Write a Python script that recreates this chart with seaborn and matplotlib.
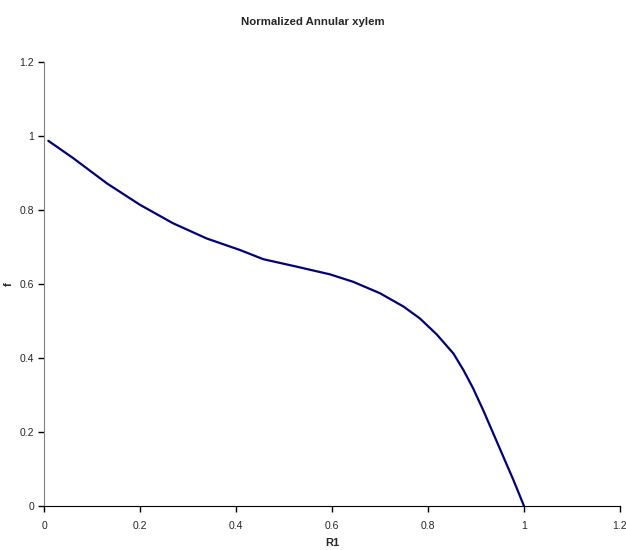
import pandas as pd
import matplotlib
matplotlib.use("Agg")
import matplotlib.pyplot as plt
import seaborn as sns

# values
r1 = [0.009, 0.061, 0.131, 0.2, 0.269, 0.339, 0.408, 0.457, 0.526, 0.596,
      0.644, 0.7, 0.749, 0.783, 0.818, 0.853, 0.874, 0.894, 0.915, 0.936,
      0.957, 0.978, 1.0]
f_vals = [0.987, 0.94, 0.872, 0.814, 0.764, 0.723, 0.692, 0.667, 0.647, 0.626,
          0.606, 0.575, 0.539, 0.507, 0.464, 0.412, 0.367, 0.318, 0.259, 0.196,
          0.133, 0.07, 0.0]
x_ticks = [0, 0.2, 0.4, 0.6, 0.8, 1, 1.2]
y_ticks = [0, 0.2, 0.4, 0.6, 0.8, 1, 1.2]
tick_labels = ["0", "0.2", "0.4", "0.6", "0.8", "1", "1.2"]

df = pd.DataFrame({"R1": r1, "f": f_vals})

sns.set_style("white")
plt.rcParams["font.family"] = ["Liberation Sans Narrow", "Liberation Sans", "DejaVu Sans"]

fig = plt.figure(figsize=(6.26, 5.5), dpi=100)
ax = fig.add_axes([44 / 626, 1 - 506 / 550, 576 / 626, 444 / 550])

sns.lineplot(data=df, x="R1", y="f", color="#000080", linewidth=1.6,
             solid_joinstyle="round", ax=ax)

ax.set_xlim(0, 1.2)
ax.set_ylim(0, 1.2)
ax.set_xticks(x_ticks)
ax.set_xticklabels(tick_labels)
ax.set_yticks(y_ticks)
ax.set_yticklabels(tick_labels)
ax.tick_params(axis="both", direction="out", length=4, width=1, labelsize=7.5,
               bottom=True, left=True, color="black")
ax.tick_params(axis="x", pad=7)
ax.tick_params(axis="y", pad=3)

ax.spines["top"].set_visible(False)
ax.spines["right"].set_visible(False)
ax.spines["left"].set_color("#808080")
ax.spines["bottom"].set_color("black")

ax.set_xlabel("R1", fontsize=8, weight="bold", labelpad=5)
ax.set_ylabel("f", fontsize=8, weight="bold")
ax.yaxis.set_label_coords(-30 / 576, 0.5)
fig.suptitle("Normalized Annular xylem", fontsize=8.2, weight="bold", y=1 - 22 / 550, va="center")

fig.savefig("out.png", dpi=100)
